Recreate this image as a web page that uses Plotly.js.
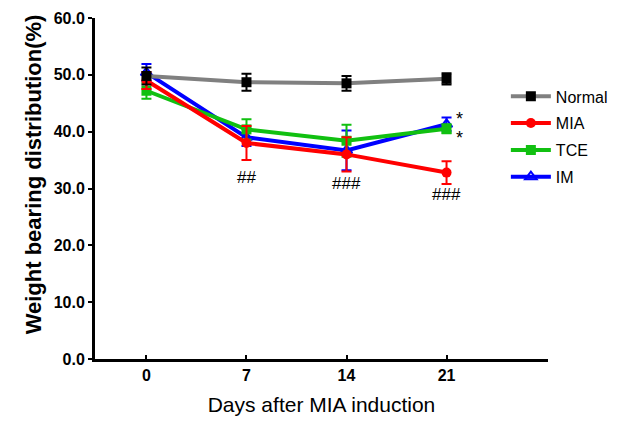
<!DOCTYPE html>
<html>
<head>
<meta charset="utf-8">
<script src="https://cdn.plot.ly/plotly-3.0.1.min.js"></script>
<style>html,body{margin:0;padding:0;background:#fff}#chart{width:625px;height:422px}</style>
</head>
<body>
<div id="chart"></div>
<script>
var days = [0, 7, 14, 21];
var normalMean = [49.8, 48.7, 48.5, 49.3];
var normalErr  = [1.5, 1.5, 1.3, 1.0];
var miaMean = [49.0, 38.0, 36.0, 32.8];
var miaErr  = [1.5, 3.0, 3.0, 2.0];
var tceMean = [47.2, 40.4, 38.4, 40.5];
var tceErr  = [1.4, 1.8, 2.8, 0.8];
var imMean = [50.4, 39.0, 36.7, 41.3];
var imErr  = [1.5, 1.5, 3.5, 1.2];
var sigLabels = [
  {x: 7, y: 32.0, text: '##'},
  {x: 14, y: 30.8, text: '###'},
  {x: 21, y: 29.0, text: '###'}
];
var starLabels = [
  {x: 21, y: 42.2, text: '*'},
  {x: 21, y: 38.9, text: '*'}
];

function tr(name, y, err, lineColor, mColor, symbol, rank) {
  var open = symbol.indexOf('open') >= 0;
  return {
    x: days, y: y, name: name, type: 'scatter', mode: 'lines+markers',
    legendgroup: name,
    line: {color: lineColor, width: 4},
    marker: {color: mColor, symbol: symbol, size: 10, line: {color: mColor, width: open ? 2 : 0}},
    error_y: {type: 'data', array: err, visible: true, color: mColor, thickness: 2, width: 5},
    legendrank: rank
  };
}

var data = [
  tr('IM', imMean, imErr, '#0000ff', '#0000ff', 'triangle-up-open', 4),
  tr('TCE', tceMean, tceErr, '#11c011', '#11c011', 'square', 3),
  tr('MIA', miaMean, miaErr, '#ff0000', '#ff0000', 'circle', 2),
  tr('Normal', normalMean, normalErr, '#808080', '#000000', 'square', 1)
];

var annotations = sigLabels.map(function(a){
  return {x: a.x, y: a.y, xref: 'x', yref: 'y', text: a.text, showarrow: false,
    font: {family: 'Liberation Sans, Arial', size: 17, color: '#000'}};
}).concat(starLabels.map(function(a){
  return {x: a.x, y: a.y, xref: 'x', yref: 'y', text: a.text, showarrow: false, xshift: 13,
    font: {family: 'Liberation Sans, Arial', size: 18, color: '#000'}};
}));
annotations.push({
  x: 0, y: 0.54, xref: 'paper', yref: 'paper', xshift: -76, textangle: -90,
  text: 'Weight bearing distribution(%)', showarrow: false,
  font: {family: 'Liberation Sans, Arial', size: 22, color: '#000', weight: 'bold'}
});

var layout = {
  width: 625, height: 422,
  margin: {l: 95, r: 75, t: 18, b: 63},
  paper_bgcolor: '#fff', plot_bgcolor: '#fff',
  showlegend: true,
  legend: {x: 0.907, y: 0.82, xanchor: 'left', yanchor: 'top', bgcolor: 'rgba(0,0,0,0)',
    font: {family: 'Liberation Sans, Arial', size: 16, color: '#000'}, tracegroupgap: 3, itemwidth: 40},
  xaxis: {
    range: [-3.6, 28.1], tickvals: days, ticktext: days.map(String),
    showgrid: false, zeroline: false, showline: true, linecolor: '#000', linewidth: 3,
    ticks: 'inside', ticklen: 4, tickwidth: 2, tickcolor: '#000',
    tickfont: {family: 'Liberation Sans, Arial', size: 16, color: '#000', weight: 'bold'},
    title: {text: 'Days after MIA induction', font: {family: 'Liberation Sans, Arial', size: 21, color: '#000'}, standoff: 15}
  },
  yaxis: {
    range: [0, 60], tickvals: [0,10,20,30,40,50,60], tickformat: '.1f',
    showgrid: false, zeroline: false, showline: true, linecolor: '#000', linewidth: 3,
    ticks: 'outside', ticklen: 4, tickwidth: 2, tickcolor: '#000',
    tickfont: {family: 'Liberation Sans, Arial', size: 16, color: '#000', weight: 'bold'}
  },
  annotations: annotations
};
Plotly.newPlot('chart', data, layout, {displayModeBar: false, staticPlot: true});
</script>
</body>
</html>
